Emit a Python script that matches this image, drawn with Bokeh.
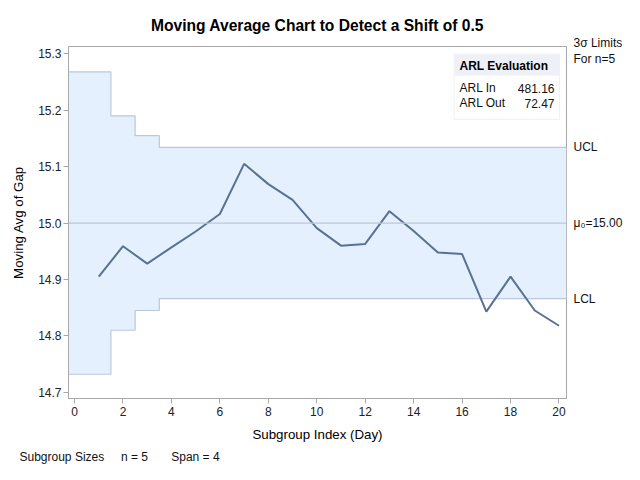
from bokeh.plotting import figure
from bokeh.models import (Range1d, LinearAxis, FixedTicker, Span, Label, BoxAnnotation,
                          Title, PrintfTickFormatter)
from bokeh.embed import file_html
from bokeh.resources import INLINE

# ---- data ----
day = list(range(1, 21))
mov_avg = [14.905, 14.959, 14.928, 14.957, 14.985, 15.016, 15.105, 15.069, 15.041, 14.991,
           14.960, 14.963, 15.021, 14.986, 14.948, 14.945, 14.843, 14.905, 14.845, 14.818]
ucl = [15.268, 15.190, 15.155] + [15.134] * 17
lcl = [14.732, 14.810, 14.845] + [14.866] * 17
mean = 15.0
x_ticks = [0, 2, 4, 6, 8, 10, 12, 14, 16, 18, 20]
y_ticks = [14.7, 14.8, 14.9, 15.0, 15.1, 15.2, 15.3]
limit_names = ["UCL", "\u03bc\u2080=15.00", "LCL"]
limits_note = "3\u03c3 Limits\nFor n=5"
arl_rows = [("ARL In", "481.16"), ("ARL Out", "72.47")]
title_text = "Moving Average Chart to Detect a Shift of 0.5"
notes = ["Subgroup Sizes", "n = 5", "Span = 4"]

FONT = "Liberation Sans"
X0, X1 = -0.25, 20.31
Y0, Y1 = 14.689, 15.313

BL, BT = 68, 46
FW, FH = 498, 352
BR, BB = 58, 66

p = figure(frame_width=FW, frame_height=FH, output_backend="svg", toolbar_location=None,
           x_range=Range1d(X0, X1), y_range=Range1d(Y0, Y1),
           min_border_left=BL, min_border_right=BR, min_border_top=BT, min_border_bottom=BB)
p.background_fill_color = "white"
p.border_fill_color = "white"
p.outline_line_color = "#A8A8A8"
p.xgrid.visible = False
p.ygrid.visible = False

p.title.text = title_text
p.title.align = "center"
p.title.offset = 3
p.title.standoff = 26
p.title.text_font = FONT
p.title.text_font_size = "15.6px"
p.title.text_font_style = "bold"
p.title.text_color = "#000000"

# band (step limits)
step_x = [X0] + [d + 0.5 for d in day[:-1]] + [X1]
step_u = ucl + [ucl[-1]]
step_l = lcl + [lcl[-1]]
p.varea_step(x=step_x, y1=step_l, y2=step_u, step_mode="after", fill_color="#E4F0FD")
p.step(step_x, step_u, mode="after", line_color="#BCC7DA", line_width=1.2)
p.step(step_x, step_l, mode="after", line_color="#BCC7DA", line_width=1.2)
p.add_layout(Span(location=mean, dimension="width", line_color="#BCC7DA", line_width=1.2))

p.line(day, mov_avg, line_color="#5A7095", line_width=2)

# axes
for ax in (p.xaxis[0], p.yaxis[0]):
    ax.axis_line_color = "#A8A8A8"
    ax.major_tick_line_color = "#A8A8A8"
    ax.major_tick_out = 5
    ax.major_tick_in = 0
    ax.minor_tick_line_color = None
    ax.major_label_text_font = FONT
    ax.major_label_text_font_size = "12px"
    ax.major_label_text_color = "#222222"
    ax.axis_label_text_font = FONT
    ax.axis_label_text_font_size = "13.3px"
    ax.axis_label_text_font_style = "normal"
    ax.axis_label_text_color = "#000000"

p.xaxis.ticker = FixedTicker(ticks=x_ticks)
p.yaxis.ticker = FixedTicker(ticks=y_ticks)
p.yaxis.formatter = PrintfTickFormatter(format="%.1f")
p.xaxis.axis_label = "Subgroup Index (Day)"
p.yaxis.axis_label = "Moving Avg of Gap"
p.xaxis.major_label_standoff = 3
p.xaxis.axis_label_standoff = 8
p.yaxis.major_label_standoff = 2
p.yaxis.axis_label_standoff = 9

# right side: limit labels (placed at limit values) plus note near frame top
note_y = Y1 - (50.5 - BT) / FH * (Y1 - Y0)
right_ticks = [note_y, ucl[-1], mean, lcl[-1]]
right_text = [limits_note] + limit_names
ra = LinearAxis(ticker=FixedTicker(ticks=right_ticks),
                major_label_overrides=dict(zip(right_ticks, right_text)))
ra.axis_line_color = None
ra.major_tick_line_color = None
ra.major_tick_out = 0
ra.major_tick_in = 0
ra.minor_tick_line_color = None
ra.major_label_standoff = 7
ra.major_label_text_font = FONT
ra.major_label_text_font_size = "12px"
ra.major_label_text_color = "#111111"
p.add_layout(ra, "right")

# bottom notes
nb = "\u00a0"
note_line = notes[0] + nb * 5 + notes[1] + nb * 7 + notes[2]
p.add_layout(Title(text=note_line, align="left", offset=19 - BL, standoff=7,
                   text_font=FONT, text_font_size="12px", text_font_style="normal",
                   text_color="#111111"), "below")

# ARL inset (frame-relative screen coords from page px)
FB_ABS = BT + FH

def sx(a):
    return a - BL

def sy(a):
    return FB_ABS - a

def lab(x, y, text, align="left", bold=False, color="#111111"):
    p.add_layout(Label(x=sx(x), y=sy(y), x_units="screen", y_units="screen", text=text,
                       text_font=FONT, text_font_size="12px", text_align=align,
                       text_baseline="middle", text_color=color,
                       text_font_style="bold" if bold else "normal"))

p.add_layout(BoxAnnotation(left=sx(453.5), right=sx(559), top=sy(53.5), bottom=sy(119),
                           left_units="screen", right_units="screen", top_units="screen", bottom_units="screen",
                           fill_color="white", fill_alpha=1, line_color="#CDD2DC", line_width=1))
p.add_layout(BoxAnnotation(left=sx(454), right=sx(558.5), top=sy(54), bottom=sy(75),
                           left_units="screen", right_units="screen", top_units="screen", bottom_units="screen",
                           fill_color="#EDF0F6", fill_alpha=1, line_color=None))
lab(459, 65.5, "ARL Evaluation", bold=True, color="#000000")
for i, (k, v) in enumerate(arl_rows):
    lab(459, 87.5 + 15 * i, k)
    lab(554, 87.5 + 15 * i, v, align="right")

open("out.html", "w").write(file_html(p, INLINE))
